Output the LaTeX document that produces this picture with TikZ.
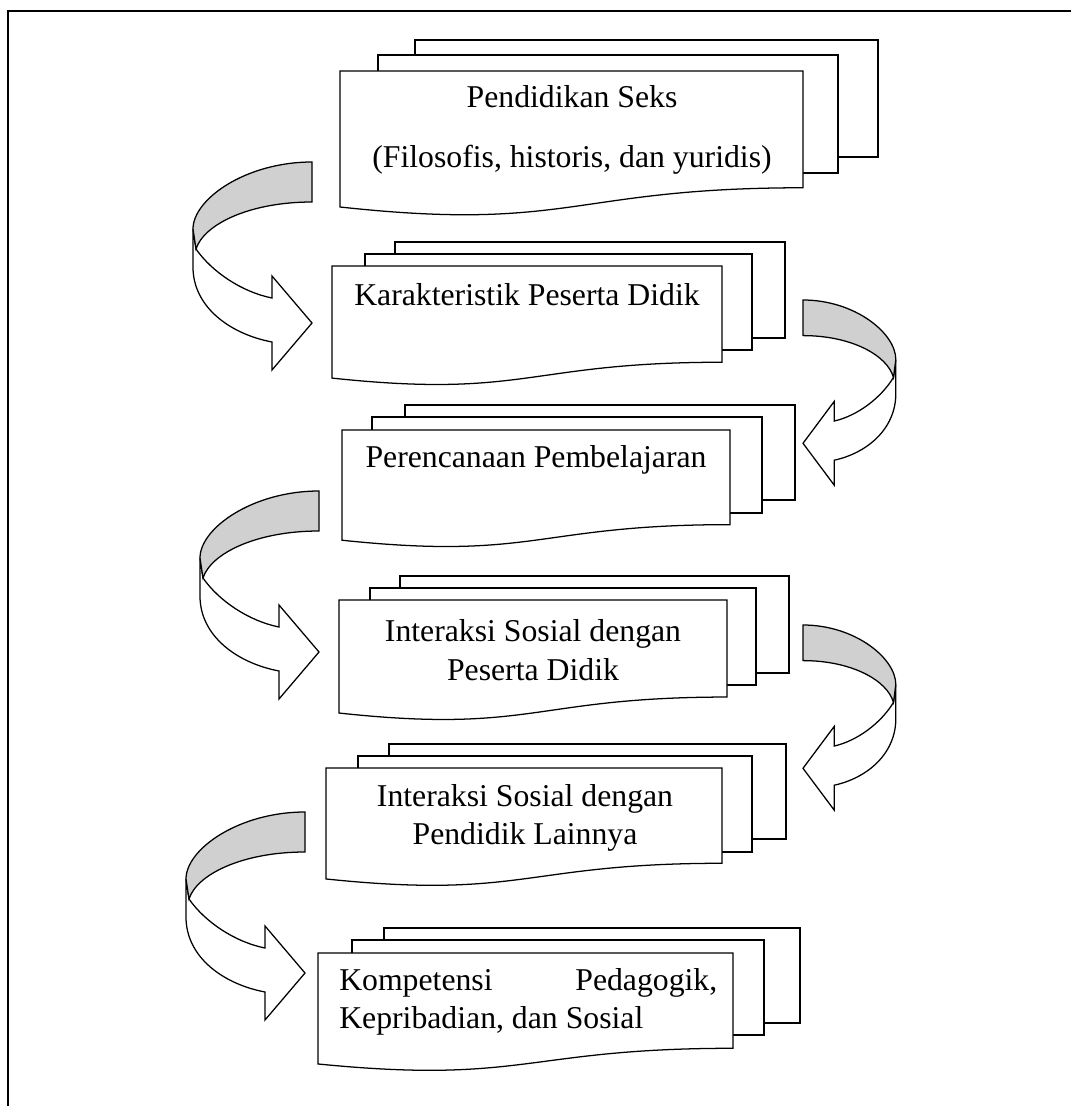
\documentclass[tikz,border=0pt]{standalone}
\usepackage{fontspec}
\setmainfont{Liberation Serif}
\definecolor{bandgray}{RGB}{208,208,208}
\tikzset{
  docline/.style={draw=black, fill=white, line width=0.95pt, line join=miter},
  doctext/.style={inner sep=0pt, anchor=base, font=\fontsize{23.8}{28.6}\selectfont},
  frame/.style={draw=black, line width=1.5pt},
  % curved block arrow: origin at the outer top corner of the shaded band
  pics/turnarrow/.style={code={
    \draw[docline] (-119,67) -- (-119,105)
      .. controls (-119,145) and (-82,172) .. (-40,180)
      -- (-40,208) -- (0,161) -- (-40,114) -- (-40,136)
      .. controls (-70,130) and (-100,110) .. (-116,87) -- cycle;
    \draw[docline, fill=bandgray] (0,0)
      .. controls (-66,0) and (-119,37) .. (-119,67) -- (-116,87)
      .. controls (-108,62) and (-62,40) .. (0,40) -- cycle;
  }}
}
% front sheet with a wavy lower edge: left, top, right, height
\newcommand\docfront[4]{%
  \draw[docline] (#1,#2) -- (#3,#2) -- (#3,{#2+0.802*#4})
    .. controls ({(#1+#3)/2},{#2+0.802*#4}) and ({(#1+#3)/2},{#2+1.1075*#4})
    .. (#1,{#2+0.934*#4}) -- cycle;}
% sheets lying behind: left, top, right, bottom
\newcommand\docback[4]{\draw[docline] (#1,#2) rectangle (#3,#4);}

\begin{document}
\begin{tikzpicture}[x=0.75pt, y=-0.75pt]
\useasboundingbox (0,0) rectangle (1071,1106);
\draw[frame] (8,1106) -- (8,11) -- (1071,11);

% stack 1
\docback{415}{40}{878}{157}
\docback{378}{55}{838}{173}
\docfront{340}{71}{803}{145.6}
\node[doctext] (a1) at (572,108) {Pendidikan Seks};
\node[doctext] (a2) at (572,167) {(Filosofis, historis, dan yuridis)};

% stack 2
\docback{395}{242}{785}{338}
\docback{365}{254}{752}{350}
\docfront{332}{266}{722}{120}
\node[doctext] (b1) at (527,305) {Karakteristik Peserta Didik};

% stack 3
\docback{405}{405}{795}{500}
\docback{372}{417}{762}{513}
\docfront{342}{430}{730}{118}
\node[doctext] (c1) at (536,467) {Perencanaan Pembelajaran};

% stack 4
\docback{400}{576}{789}{673}
\docback{370}{588}{756}{685}
\docfront{339}{600}{727}{121}
\node[doctext] (d1) at (533,641) {Interaksi Sosial dengan};
\node[doctext] (d2) at (533,680) {Peserta Didik};

% stack 5
\docback{389}{744}{786}{839}
\docback{358}{756}{752}{852}
\docfront{326}{768}{722}{118.8}
\node[doctext] (e1) at (525,806) {Interaksi Sosial dengan};
\node[doctext] (e2) at (525,844) {Pendidik Lainnya};

% stack 6
\docback{384}{928}{800}{1023}
\docback{352}{940}{764}{1035}
\docfront{318}{953}{733}{118.8}
\node[doctext, anchor=base west] (f1) at (339,990) {\makebox[283.5pt]{Kompetensi\hfill Pedagogik,}};
\node[doctext, anchor=base west] (f2) at (339,1028) {Kepribadian, dan Sosial};

% curved arrows on the left
\pic at (312,162) {turnarrow};
\pic at (319,491) {turnarrow};
\pic at (305,812) {turnarrow};
% curved arrows on the right
\pic[xscale=-0.78, yscale=0.89] at (803,300) {turnarrow};
\pic[xscale=-0.78, yscale=0.89] at (803,625) {turnarrow};
\end{tikzpicture}
\end{document}
